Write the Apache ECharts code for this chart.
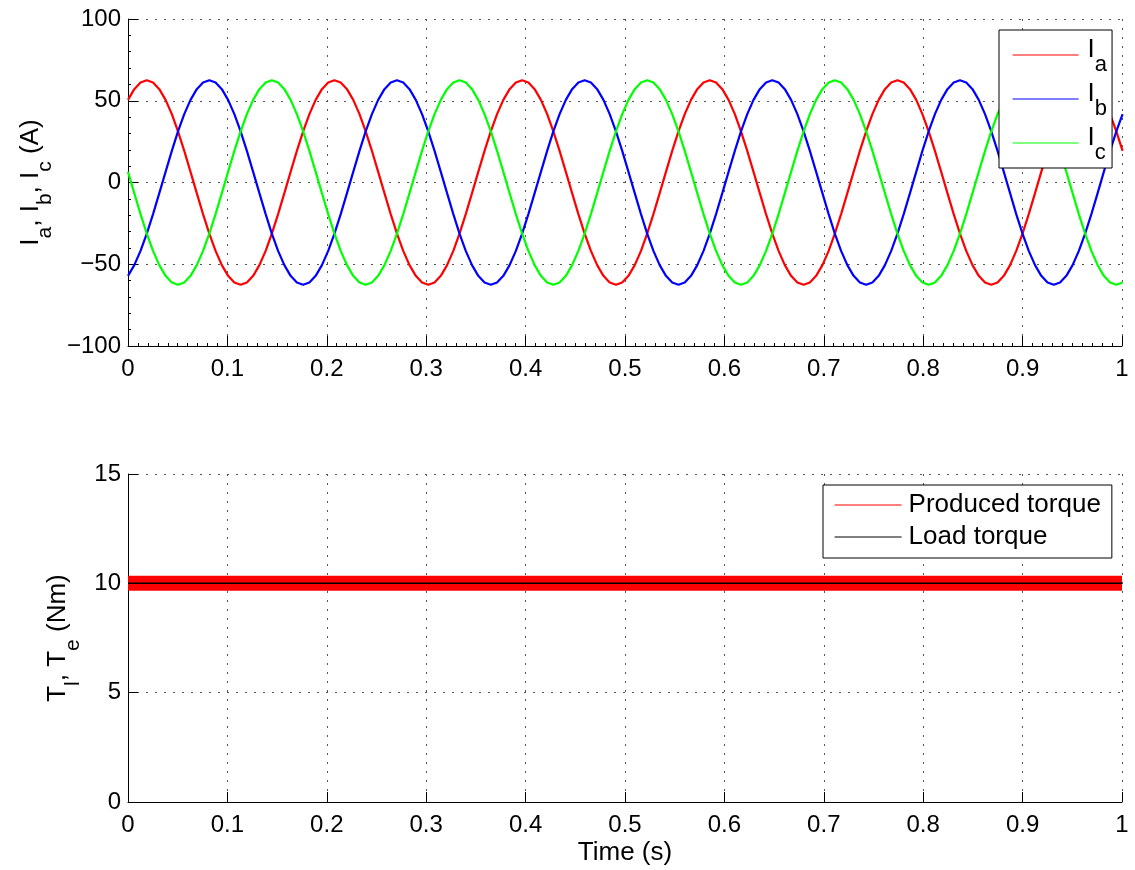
<!DOCTYPE html>
<html><head><meta charset="utf-8">
<script src="https://cdn.jsdelivr.net/npm/echarts@6/dist/echarts.min.js"></script>
<style>html,body{margin:0;padding:0;background:#fff}#c{width:1135px;height:870px}</style>
</head><body><div id="c"></div>
<script>
// sample times (s)
const time = [
0,0.0063,0.0126,0.0189,0.0252,0.0315,0.0378,0.0441,0.0503,0.0566,0.0629,0.0692,0.0755,0.0818,0.0881,0.0944,0.1007,0.1070,0.1133,0.1196,0.1259,0.1322,0.1385,0.1447,0.1510,0.1573,0.1636,0.1699,0.1762,0.1825,
0.1888,0.1951,0.2014,0.2077,0.2140,0.2203,0.2266,0.2329,0.2391,0.2454,0.2517,0.2580,0.2643,0.2706,0.2769,0.2832,0.2895,0.2958,0.3021,0.3084,0.3147,0.3210,0.3273,0.3335,0.3398,0.3461,0.3524,0.3587,0.3650,0.3713,
0.3776,0.3839,0.3902,0.3965,0.4028,0.4091,0.4154,0.4217,0.4279,0.4342,0.4405,0.4468,0.4531,0.4594,0.4657,0.4720,0.4783,0.4846,0.4909,0.4972,0.5035,0.5098,0.5161,0.5223,0.5286,0.5349,0.5412,0.5475,0.5538,0.5601,
0.5664,0.5727,0.5790,0.5853,0.5916,0.5979,0.6042,0.6105,0.6167,0.6230,0.6293,0.6356,0.6419,0.6482,0.6545,0.6608,0.6671,0.6734,0.6797,0.6860,0.6923,0.6986,0.7049,0.7111,0.7174,0.7237,0.7300,0.7363,0.7426,0.7489,
0.7552,0.7615,0.7678,0.7741,0.7804,0.7867,0.7930,0.7992,0.8055,0.8118,0.8181,0.8244,0.8307,0.8370,0.8433,0.8496,0.8559,0.8622,0.8685,0.8748,0.8811,0.8874,0.8936,0.8999,0.9062,0.9125,0.9188,0.9251,0.9314,0.9377,
0.9440,0.9503,0.9566,0.9629,0.9692,0.9755,0.9817,0.9880,0.9943,1.0006
];
// phase currents (A)
const iA = [
50.56,57.1,61.13,62.5,61.13,57.1,50.56,41.82,31.25,19.31,6.53,-6.53,-19.31,-31.25,-41.82,-50.56,-57.1,-61.13,-62.5,-61.13,-57.1,-50.56,-41.82,-31.25,-19.31,-6.53,6.53,19.31,31.25,41.82,
50.56,57.1,61.13,62.5,61.13,57.1,50.56,41.82,31.25,19.31,6.53,-6.53,-19.31,-31.25,-41.82,-50.56,-57.1,-61.13,-62.5,-61.13,-57.1,-50.56,-41.82,-31.25,-19.31,-6.53,6.53,19.31,31.25,41.82,
50.56,57.1,61.13,62.5,61.13,57.1,50.56,41.82,31.25,19.31,6.53,-6.53,-19.31,-31.25,-41.82,-50.56,-57.1,-61.13,-62.5,-61.13,-57.1,-50.56,-41.82,-31.25,-19.31,-6.53,6.53,19.31,31.25,41.82,
50.56,57.1,61.13,62.5,61.13,57.1,50.56,41.82,31.25,19.31,6.53,-6.53,-19.31,-31.25,-41.82,-50.56,-57.1,-61.13,-62.5,-61.13,-57.1,-50.56,-41.82,-31.25,-19.31,-6.53,6.53,19.31,31.25,41.82,
50.56,57.1,61.13,62.5,61.13,57.1,50.56,41.82,31.25,19.31,6.53,-6.53,-19.31,-31.25,-41.82,-50.56,-57.1,-61.13,-62.5,-61.13,-57.1,-50.56,-41.82,-31.25,-19.31,-6.53,6.53,19.31,31.25,41.82,
50.56,57.1,61.13,62.5,61.13,57.1,50.56,41.82,31.25,19.31
];
const iB = [
-57.1,-50.56,-41.82,-31.25,-19.31,-6.53,6.53,19.31,31.25,41.82,50.56,57.1,61.13,62.5,61.13,57.1,50.56,41.82,31.25,19.31,6.53,-6.53,-19.31,-31.25,-41.82,-50.56,-57.1,-61.13,-62.5,-61.13,
-57.1,-50.56,-41.82,-31.25,-19.31,-6.53,6.53,19.31,31.25,41.82,50.56,57.1,61.13,62.5,61.13,57.1,50.56,41.82,31.25,19.31,6.53,-6.53,-19.31,-31.25,-41.82,-50.56,-57.1,-61.13,-62.5,-61.13,
-57.1,-50.56,-41.82,-31.25,-19.31,-6.53,6.53,19.31,31.25,41.82,50.56,57.1,61.13,62.5,61.13,57.1,50.56,41.82,31.25,19.31,6.53,-6.53,-19.31,-31.25,-41.82,-50.56,-57.1,-61.13,-62.5,-61.13,
-57.1,-50.56,-41.82,-31.25,-19.31,-6.53,6.53,19.31,31.25,41.82,50.56,57.1,61.13,62.5,61.13,57.1,50.56,41.82,31.25,19.31,6.53,-6.53,-19.31,-31.25,-41.82,-50.56,-57.1,-61.13,-62.5,-61.13,
-57.1,-50.56,-41.82,-31.25,-19.31,-6.53,6.53,19.31,31.25,41.82,50.56,57.1,61.13,62.5,61.13,57.1,50.56,41.82,31.25,19.31,6.53,-6.53,-19.31,-31.25,-41.82,-50.56,-57.1,-61.13,-62.5,-61.13,
-57.1,-50.56,-41.82,-31.25,-19.31,-6.53,6.53,19.31,31.25,41.82
];
const iC = [
6.53,-6.53,-19.31,-31.25,-41.82,-50.56,-57.1,-61.13,-62.5,-61.13,-57.1,-50.56,-41.82,-31.25,-19.31,-6.53,6.53,19.31,31.25,41.82,50.56,57.1,61.13,62.5,61.13,57.1,50.56,41.82,31.25,19.31,
6.53,-6.53,-19.31,-31.25,-41.82,-50.56,-57.1,-61.13,-62.5,-61.13,-57.1,-50.56,-41.82,-31.25,-19.31,-6.53,6.53,19.31,31.25,41.82,50.56,57.1,61.13,62.5,61.13,57.1,50.56,41.82,31.25,19.31,
6.53,-6.53,-19.31,-31.25,-41.82,-50.56,-57.1,-61.13,-62.5,-61.13,-57.1,-50.56,-41.82,-31.25,-19.31,-6.53,6.53,19.31,31.25,41.82,50.56,57.1,61.13,62.5,61.13,57.1,50.56,41.82,31.25,19.31,
6.53,-6.53,-19.31,-31.25,-41.82,-50.56,-57.1,-61.13,-62.5,-61.13,-57.1,-50.56,-41.82,-31.25,-19.31,-6.53,6.53,19.31,31.25,41.82,50.56,57.1,61.13,62.5,61.13,57.1,50.56,41.82,31.25,19.31,
6.53,-6.53,-19.31,-31.25,-41.82,-50.56,-57.1,-61.13,-62.5,-61.13,-57.1,-50.56,-41.82,-31.25,-19.31,-6.53,6.53,19.31,31.25,41.82,50.56,57.1,61.13,62.5,61.13,57.1,50.56,41.82,31.25,19.31,
6.53,-6.53,-19.31,-31.25,-41.82,-50.56,-57.1,-61.13,-62.5,-61.13
];
// torque (Nm)
const torqueTime = [0, 0.25, 0.5, 0.75, 1];
const producedTorque = [10, 10, 10, 10, 10];
const loadTorque = [10, 10, 10, 10, 10];

const FONT = '"Liberation Sans", Arial, Helvetica, sans-serif';
const pair = (xs, ys) => xs.map((x, i) => [x, ys[i]]);
const gridLine = { show: true, lineStyle: { color: '#555', width: 1, type: [2, 7] } };
const axisLine = { show: true, onZero: false, lineStyle: { color: '#000', width: 1 } };
const tick = { show: true, inside: true, length: 10, lineStyle: { color: '#000' } };
const lbl = (m) => ({ color: '#000', fontSize: 24, fontFamily: FONT, margin: m,
  formatter: v => String(+v.toFixed(4)).replace('-', '\u2212') });
const nameRich = {
  m: { fontSize: 26, lineHeight: 26, padding: [0, 0, 10, 0], fontFamily: FONT, color: '#000' },
  s: { fontSize: 21, lineHeight: 21, padding: [20, 0, 0, 0], fontFamily: FONT, color: '#000' }
};
const noSym = { opacity: 0, borderWidth: 0 };

const chart = echarts.init(document.getElementById('c'), null, { renderer: 'canvas' });
chart.setOption({
  animation: false,
  backgroundColor: '#fff',
  grid: [
    { left: 128, top: 19, width: 994, height: 327 },
    { left: 128, top: 474, width: 994, height: 328 }
  ],
  xAxis: [
    { type: 'value', gridIndex: 0, min: 0, max: 1, interval: 0.1,
      axisLine, axisTick: tick, axisLabel: lbl(11), splitLine: gridLine,
      minorTick: { show: true, splitNumber: 10, length: 3, lineStyle: { color: '#000' } } },
    { type: 'value', gridIndex: 1, min: 0, max: 1, interval: 0.1,
      axisLine, axisTick: tick, axisLabel: lbl(11), splitLine: gridLine,
      name: 'Time (s)', nameLocation: 'middle', nameGap: 38,
      nameTextStyle: { fontSize: 26, fontFamily: FONT, color: '#000' } }
  ],
  yAxis: [
    { type: 'value', gridIndex: 0, min: -100, max: 100, interval: 50,
      axisLine, axisTick: tick, axisLabel: lbl(7), splitLine: gridLine,
      minorTick: { show: true, splitNumber: 5, length: 3, lineStyle: { color: '#000' } },
      name: '{m|I}{s|a}{m|, I}{s|b}{m|, I}{s|c}{m| (A)}', nameLocation: 'middle', nameRotate: 90, nameGap: 76,
      nameTextStyle: { fontSize: 26, fontFamily: FONT, color: '#000', rich: nameRich } },
    { type: 'value', gridIndex: 1, min: 0, max: 15, interval: 5,
      axisLine, axisTick: tick, axisLabel: lbl(7), splitLine: gridLine,
      name: '{m|T}{s|l}{m|, T}{s|e}{m| (Nm)}', nameLocation: 'middle', nameRotate: 90, nameGap: 44,
      nameTextStyle: { fontSize: 26, fontFamily: FONT, color: '#000', rich: nameRich } }
  ],
  legend: [
    { show: true, orient: 'vertical', left: 999, top: 30,
      data: [{ name: 'Ia', itemStyle: noSym }, { name: 'Ib', itemStyle: noSym }, { name: 'Ic', itemStyle: noSym }],
      itemStyle: noSym, lineStyle: { width: 1.2 },
      itemWidth: 66, itemHeight: 14, itemGap: 2,
      padding: [4, 5, 4, 13], backgroundColor: '#fff', borderColor: '#000', borderWidth: 1, borderRadius: 0,
      formatter: n => ({ Ia: '{m|I}{s|a}', Ib: '{m|I}{s|b}', Ic: '{m|I}{s|c}' })[n],
      textStyle: { fontSize: 26, fontFamily: FONT, color: '#000',
        rich: {
          m: { fontSize: 26, lineHeight: 26, padding: [0, 0, 10, 4], fontFamily: FONT, color: '#000' },
          s: { fontSize: 22, lineHeight: 22, padding: [20, 0, 0, 0], fontFamily: FONT, color: '#000' }
        } } },
    { show: true, orient: 'vertical', left: 823, top: 485,
      data: [{ name: 'Produced torque', itemStyle: noSym, lineStyle: { width: 1.2 } },
             { name: 'Load torque', itemStyle: noSym, lineStyle: { width: 1.2 } }],
      itemStyle: noSym,
      itemWidth: 67, itemHeight: 14, itemGap: 2,
      padding: [5, 11, 6, 11], backgroundColor: '#fff', borderColor: '#000', borderWidth: 1, borderRadius: 0,
      textStyle: { fontSize: 26, lineHeight: 30, fontFamily: FONT, color: '#000', padding: [0, 0, 0, 2] } }
  ],
  series: [
    { name: 'Ia', type: 'line', xAxisIndex: 0, yAxisIndex: 0, data: pair(time, iA), showSymbol: false, symbol: 'none',
      lineStyle: { color: '#ff0000', width: 2.2 }, itemStyle: { color: '#ff0000' } },
    { name: 'Ib', type: 'line', xAxisIndex: 0, yAxisIndex: 0, data: pair(time, iB), showSymbol: false, symbol: 'none',
      lineStyle: { color: '#0000ff', width: 2.2 }, itemStyle: { color: '#0000ff' } },
    { name: 'Ic', type: 'line', xAxisIndex: 0, yAxisIndex: 0, data: pair(time, iC), showSymbol: false, symbol: 'none',
      lineStyle: { color: '#00ff00', width: 2.2 }, itemStyle: { color: '#00ff00' } },
    { name: 'Produced torque', type: 'line', xAxisIndex: 1, yAxisIndex: 1, data: pair(torqueTime, producedTorque),
      showSymbol: false, symbol: 'none', lineStyle: { color: '#ff0000', width: 15, cap: 'butt' }, itemStyle: { color: '#ff0000' } },
    { name: 'Load torque', type: 'line', xAxisIndex: 1, yAxisIndex: 1, data: pair(torqueTime, loadTorque),
      showSymbol: false, symbol: 'none', lineStyle: { color: '#000000', width: 1.5 }, itemStyle: { color: '#000000' } }
  ]
});
</script></body></html>
